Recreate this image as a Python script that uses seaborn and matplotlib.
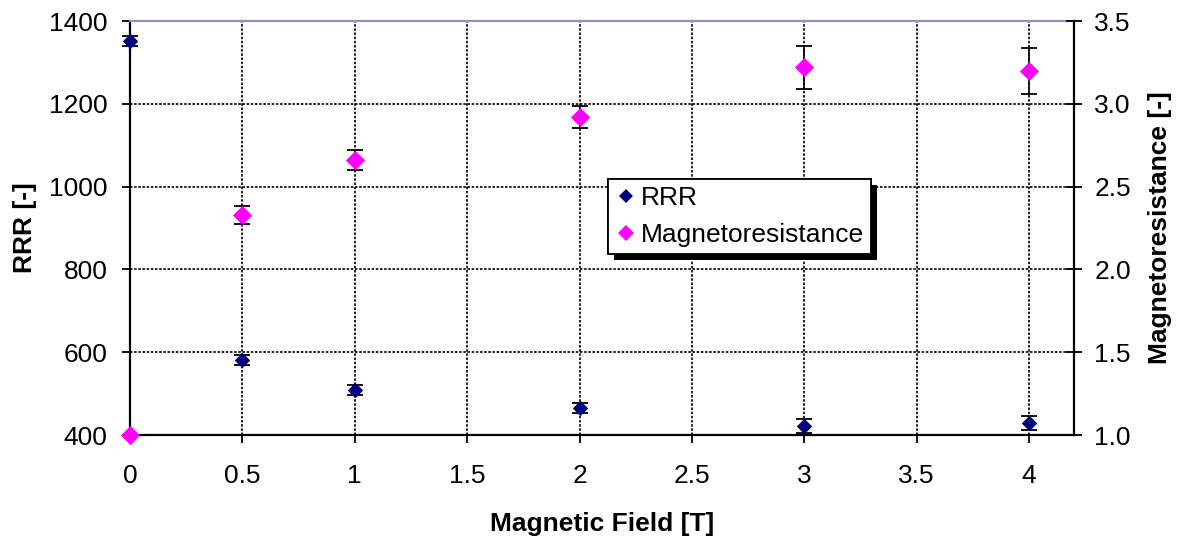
import matplotlib
matplotlib.use("Agg")
import matplotlib.pyplot as plt
import matplotlib.patheffects as pe
from matplotlib.lines import Line2D
import seaborn as sns

# Measurements versus applied field
fields = [0, 0.5, 1, 2, 3, 4]
rrr = [1352, 581, 508, 465, 422, 428]
rrr_err = [12, 13, 12, 12, 16, 17]
mr = [1.00, 2.33, 2.66, 2.92, 3.22, 3.20]
mr_err = [0.0, 0.055, 0.06, 0.065, 0.13, 0.14]

x_ticks = [0, 0.5, 1, 1.5, 2, 2.5, 3, 3.5, 4]
x_tick_labels = ["0", "0.5", "1", "1.5", "2", "2.5", "3", "3.5", "4"]
rrr_ticks = [400, 600, 800, 1000, 1200, 1400]
mr_ticks = [1.0, 1.5, 2.0, 2.5, 3.0, 3.5]
mr_tick_labels = ["1.0", "1.5", "2.0", "2.5", "3.0", "3.5"]

RRR_COLOR = "#000080"
MR_COLOR = "#FF00FF"
FS = 19

sns.set_theme(style="ticks")
plt.rcParams["font.family"] = ["Liberation Sans", "DejaVu Sans"]
plt.rcParams["text.color"] = "black"
plt.rcParams["axes.labelcolor"] = "black"
plt.rcParams["xtick.color"] = "black"
plt.rcParams["ytick.color"] = "black"

fig = plt.figure(figsize=(11.81, 5.39), dpi=100)
ax = fig.add_axes([0.1101, 0.1929, 0.7993, 0.768])
ax2 = ax.twinx()

# RRR on the left axis
ax.errorbar(fields, rrr, yerr=rrr_err, fmt="none", ecolor="black",
            elinewidth=1.2, capsize=6, capthick=1.3, zorder=3, clip_on=False)
sns.scatterplot(x=fields, y=rrr, ax=ax, marker="D", s=62, color=RRR_COLOR,
                linewidth=0, zorder=4, clip_on=False, legend=False)

# Magnetoresistance on the right axis
ax2.errorbar(fields, mr, yerr=mr_err, fmt="none", ecolor="black",
             elinewidth=1.2, capsize=6, capthick=1.3, zorder=3, clip_on=False)
sns.scatterplot(x=fields, y=mr, ax=ax2, marker="D", s=95, color=MR_COLOR,
                linewidth=0, zorder=4, clip_on=False, legend=False)

ax.set_xlim(0, 4.2)
ax.set_ylim(400, 1400)
ax2.set_ylim(1.0, 3.5)

ax.set_xticks(x_ticks)
ax.set_xticklabels(x_tick_labels)
ax.set_yticks(rrr_ticks)
ax2.set_yticks(mr_ticks)
ax2.set_yticklabels(mr_tick_labels)

ax.grid(True, color="black", linestyle=(0, (1.5, 1)), linewidth=1.2)
ax2.grid(False)

for s in ["left", "bottom"]:
    ax.spines[s].set_color("black")
    ax.spines[s].set_linewidth(1.6)
ax.spines["top"].set_color("#9090b8")
ax.spines["top"].set_linewidth(1.6)
ax.spines["right"].set_visible(False)
for s in ["left", "top", "bottom"]:
    ax2.spines[s].set_visible(False)
ax2.spines["right"].set_color("black")
ax2.spines["right"].set_linewidth(1.6)

ax.tick_params(axis="y", direction="out", length=5.8, width=1.3, pad=10.6,
               labelsize=FS, colors="black")
ax.tick_params(axis="x", direction="out", length=5.8, width=1.3, pad=15,
               labelsize=FS, colors="black")
ax2.tick_params(axis="y", direction="inout", length=11.5, width=1.3, pad=8.9,
                labelsize=FS, colors="black")

ax.set_xlabel("Magnetic Field [T]", fontsize=FS, fontweight="bold", color="black")
ax.set_ylabel("RRR [-]", fontsize=FS, fontweight="bold", color="black")
ax2.set_ylabel("Magnetoresistance [-]", fontsize=FS, fontweight="bold", color="black")
ax.xaxis.set_label_coords(0.5, -0.186)
ax.yaxis.set_label_coords(-0.0985, 0.5)
ax2.yaxis.set_label_coords(1.078, 0.5)

handles = [
    Line2D([], [], linestyle="none", marker="D", markersize=7.2,
           markerfacecolor=RRR_COLOR, markeredgewidth=0, label="RRR"),
    Line2D([], [], linestyle="none", marker="D", markersize=8.2,
           markerfacecolor=MR_COLOR, markeredgewidth=0, label="Magnetoresistance"),
]
leg = ax2.legend(handles=handles, loc="upper left",
                 bbox_to_anchor=(608 / 1181, 1 - 179 / 539),
                 bbox_transform=fig.transFigure, borderaxespad=0,
                 fontsize=FS, frameon=True, fancybox=False, framealpha=1,
                 edgecolor="black", borderpad=0.28, labelspacing=0.48,
                 handlelength=0.8, handletextpad=0.15)
for t in leg.get_texts():
    t.set_color("black")
leg.get_frame().set_linewidth(1.3)
leg.get_frame().set_path_effects([
    pe.withSimplePatchShadow(offset=(4.3, -4.3), shadow_rgbFace="black", alpha=1),
    pe.Normal(),
])

fig.savefig("out.png", dpi=100)
